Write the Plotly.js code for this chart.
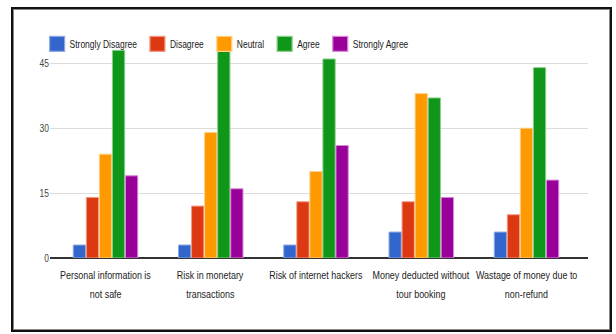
<!DOCTYPE html>
<html>
<head>
<meta charset="utf-8">
<script src="https://cdn.plot.ly/plotly-3.0.1.min.js"></script>
<style>
  html, body { margin: 0; padding: 0; background: #fff; }
  #wrap { position: relative; width: 616px; height: 334px; }
  #chart { width: 616px; height: 334px; }
  #frame { position: absolute; left: 11px; top: 7px; width: 597px; height: 321px;
           border: 2px solid #111; box-shadow: inset 0 0 0 1px #888;
           pointer-events: none; box-sizing: content-box; }
</style>
</head>
<body>
<div id="wrap">
  <div id="chart"></div>
  <div id="frame"></div>
</div>
<script>
const categories = [
  "Personal information is<br>not safe",
  "Risk in monetary<br>transactions",
  "Risk of internet hackers",
  "Money deducted without<br>tour booking",
  "Wastage of money due to<br>non-refund"
];
const seriesNames = ["Strongly Disagree", "Disagree", "Neutral", "Agree", "Strongly Agree"];
const stronglyDisagree = [3, 3, 3, 6, 6];
const disagree = [14, 12, 13, 13, 10];
const neutral = [24, 29, 20, 38, 30];
const agree = [48, 48, 46, 37, 44];
const stronglyAgree = [19, 16, 26, 14, 18];
const yTicks = [0, 15, 30, 45];

const colors = ["#3366cc", "#dc3912", "#ff9900", "#109618", "#990099"];
const edge = ["#8fa9e0", "#f09a85", "#ffd08a", "#88d08c", "#d98ad9"];
const values = [stronglyDisagree, disagree, neutral, agree, stronglyAgree];

const font = "'Liberation Sans', Arial, sans-serif";
const SQUEEZE_LABEL = 0.85;  // reference text is a condensed face
const SQUEEZE = 0.77;

const traces = seriesNames.map((n, i) => ({
  type: "bar",
  name: n,
  x: categories,
  y: values[i],
  marker: { color: colors[i], line: { color: edge[i], width: 1 } },
  hoverinfo: "none"
}));

// category labels drawn line by line (reference uses wide line spacing)
const annotations = [];
categories.forEach(c => {
  c.split("<br>").forEach((line, j) => {
    annotations.push({
      x: c, y: 0, xref: "x", yref: "y",
      text: line, showarrow: false,
      xanchor: "center", yanchor: "middle",
      yshift: -17 - 19 * j,
      font: { family: font, size: 10.5, color: "#222" }
    });
  });
});

const layout = {
  width: 616, height: 334,
  margin: { l: 50, r: 28, t: 46, b: 76 },
  paper_bgcolor: "#fff", plot_bgcolor: "#fff",
  barmode: "group",
  bargap: 0.38,
  bargroupgap: 0.06,
  font: { family: font, size: 11, color: "#222" },
  showlegend: true,
  legend: {
    orientation: "h", x: -0.024, y: 1.01, xanchor: "left", yanchor: "middle",
    font: { family: font, size: 11, color: "#222" },
    itemwidth: 30, tracegroupgap: 0, traceorder: "normal",
    bgcolor: "rgba(0,0,0,0)"
  },
  annotations: annotations,
  xaxis: {
    type: "category", showgrid: false, showline: false, zeroline: false,
    ticks: "", showticklabels: false, automargin: false
  },
  yaxis: {
    range: [0, 49], tickvals: yTicks, ticktext: yTicks.map(String),
    showgrid: true, gridcolor: "#dcdcdc", gridwidth: 1,
    zeroline: true, zerolinecolor: "#333", zerolinewidth: 2,
    showline: false, ticks: "", ticklen: 0,
    tickfont: { family: font, size: 11, color: "#444" }, automargin: false
  }
};

function condense(t, k) {
  const w = t.getComputedTextLength();
  t.setAttribute("textLength", (w * k).toFixed(1));
  t.setAttribute("lengthAdjust", "spacingAndGlyphs");
  return [w, w * k];
}

Plotly.newPlot("chart", traces, layout, { displayModeBar: false, staticPlot: true }).then(gd => {
  gd.querySelectorAll(".annotation-text-g").forEach(g => {
    const t = g.querySelector(".annotation-text");
    if (!t) return;
    const [w0, w1] = condense(t, SQUEEZE_LABEL);
    const r = g.querySelector("rect.bg");
    if (r) {
      const rw = parseFloat(r.getAttribute("width"));
      const rx = parseFloat(r.getAttribute("x") || 0);
      const nw = rw - (w0 - w1);
      r.setAttribute("x", rx + (rw - nw) / 2);
      r.setAttribute("width", nw);
    }
  });
  gd.querySelectorAll(".ytick text").forEach(t => condense(t, SQUEEZE));
  let x = null;
  gd.querySelectorAll(".legend .traces").forEach(g => {
    const t = g.querySelector("text.legendtext");
    const w = condense(t, SQUEEZE)[1];
    const m = /translate\(\s*([-\d.]+)[ ,]+([-\d.]+)\s*\)/.exec(g.getAttribute("transform") || "");
    if (!m) return;
    if (x === null) x = parseFloat(m[1]);
    g.setAttribute("transform", "translate(" + x + "," + m[2] + ")");
    t.setAttribute("x", 32.5);
    g.querySelectorAll(".legendpoints path").forEach(p => {
      const tr = p.getAttribute("transform") || "";
      p.setAttribute("transform", tr + " scale(1.25)");
    });
    const bg = g.querySelector("rect.legendtoggle");
    if (bg) bg.setAttribute("width", 33 + w);
    x += 33 + w;
  });
});
</script>
</body>
</html>
